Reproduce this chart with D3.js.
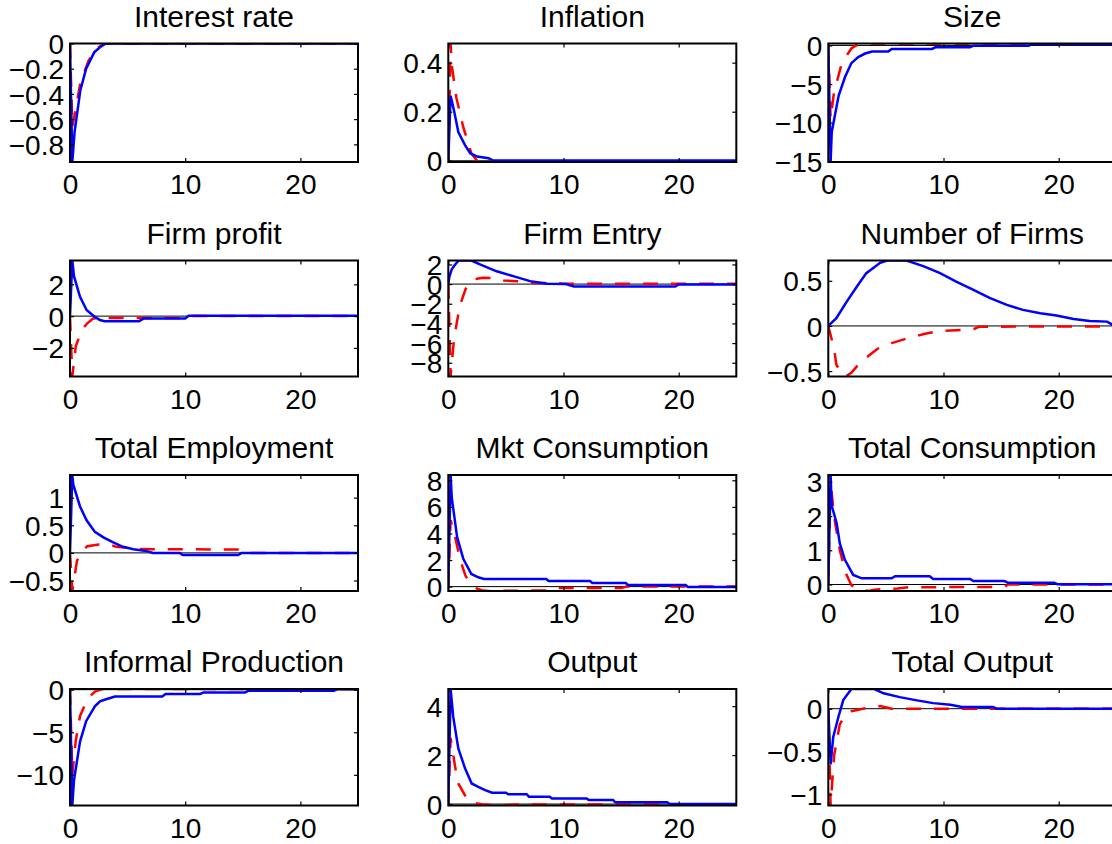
<!DOCTYPE html>
<html>
<head>
<meta charset="utf-8">
<script src="https://cdn.jsdelivr.net/npm/d3@7"></script>
<style>
  html, body { margin: 0; padding: 0; background: #fff; }
  svg { display: block; }
  text { font-family: "Liberation Sans", Arial, Helvetica, sans-serif; fill: #000; }
</style>
</head>
<body>
<svg id="chart" width="1112" height="844"></svg>
<script>
// Impulse responses: [period, value] pairs, solid = blue model, dashed = red model
const interestRateSolid  = [[0,0],[0.2,-0.94],[0.4,-0.7],[0.9,-0.37],[1.4,-0.2],[2.1,-0.07],[2.6,-0.03],[3.1,0],[25,0]];
const interestRateDashed = [[0,0],[0.2,-0.66],[0.5,-0.52],[0.9,-0.31],[1.6,-0.14],[2.2,-0.045],[3,0],[25,0]];

const inflationSolid  = [[0,0],[0.2,0.265],[0.5,0.204],[0.87,0.117],[1.45,0.064],[1.9,0.031],[2.5,0.017],[3.5,0.01],[3.9,0.001],[25,0.001]];
const inflationDashed = [[0,0],[0.2,0.478],[0.3,0.39],[0.7,0.257],[1.3,0.137],[2,0.03],[2.5,0],[3.5,-0.005],[25,-0.005]];

const sizeSolid  = [[0,0],[0.2,-15.1],[0.3,-11.2],[0.9,-6.5],[1.45,-4.1],[2,-2.3],[2.6,-1.5],[3.2,-1.05],[3.8,-0.8],[5.2,-0.8],[5.5,-0.45],[9,-0.45],[9.3,-0.24],[12.3,-0.24],[12.6,-0.03],[17.4,-0.03],[17.7,0.2],[25,0.2]];
const sizeDashed = [[0,0],[0.2,-9.5],[0.5,-6],[0.8,-4.4],[1.1,-2.7],[1.6,-1.3],[2,-0.4],[2.4,0],[3,0.25],[25,0.25]];

const profitSolid  = [[0,0],[0.2,3.5],[0.35,2.5],[0.87,1.22],[1.44,0.38],[2.16,-0.05],[2.6,-0.25],[3,-0.32],[6,-0.32],[6.4,-0.15],[10,-0.15],[10.3,0.02],[25,0.02]];
const profitDashed = [[0,0],[0.2,-3.8],[0.5,-1.9],[1,-0.9],[1.5,-0.45],[2,-0.15],[3,-0.12],[10,-0.12],[10.5,0],[25,0]];

const entrySolid  = [[0,0],[0.1,0.8],[0.3,1.5],[0.6,2.0],[0.9,2.4],[2,2.4],[2.8,1.97],[4.2,1.3],[5.7,0.78],[7.1,0.3],[8.6,0.03],[10.2,0],[10.9,-0.25],[19.7,-0.25],[20,-0.03],[25,-0.03]];
const entryDashed = [[0,0],[0.2,-9.4],[0.5,-5.5],[1,-2.2],[1.5,-0.5],[2,0.3],[2.5,0.55],[3,0.65],[4,0.6],[4.8,0.37],[6,0.3],[7,0.15],[8,0.1],[9.4,0.1],[10,0.03],[25,0.03]];

const firmsSolid  = [[0,0],[0.7,0.085],[1.6,0.27],[2.5,0.44],[3.3,0.585],[4.5,0.7],[5.1,0.725],[6.8,0.725],[8.3,0.66],[9.7,0.585],[11.1,0.49],[12.6,0.4],[14,0.31],[15.5,0.233],[16.9,0.178],[18.4,0.14],[19.8,0.115],[21.3,0.078],[22.7,0.055],[24.2,0.048],[24.7,0.01],[25,0]];
const firmsDashed = [[0,0],[0.5,-0.25],[0.7,-0.43],[1.1,-0.51],[1.5,-0.56],[2,-0.52],[2.8,-0.4],[4.3,-0.25],[5.5,-0.19],[6.8,-0.14],[8.3,-0.09],[9.7,-0.055],[12.6,-0.037],[13.1,-0.008],[25,-0.005]];

const employmentSolid  = [[0,0],[0.2,1.41],[0.29,1.23],[0.87,0.84],[1.44,0.59],[2.16,0.38],[2.9,0.28],[3.75,0.19],[4.6,0.11],[5.5,0.067],[6.6,0.036],[7.2,0],[9.5,0],[9.8,-0.04],[14.6,-0.04],[14.9,0],[25,0]];
const employmentDashed = [[0,0],[0.2,-0.69],[0.6,-0.15],[1,0.02],[1.5,0.12],[2.5,0.15],[3.5,0.15],[4,0.11],[5,0.09],[5.5,0.07],[15,0.06],[15.4,0],[25,0]];

const mktConsSolid  = [[0,0],[0.2,8.4],[0.3,6.7],[0.77,3.7],[1.3,2.1],[2,0.95],[2.6,0.7],[3.1,0.58],[8.5,0.58],[8.7,0.42],[12.3,0.42],[12.5,0.27],[15.4,0.27],[15.6,0.13],[20.6,0.13],[20.8,-0.03],[25,-0.03]];
const mktConsDashed = [[0,0],[0.2,5],[0.5,4.1],[1,2.1],[1.5,0.8],[2,0.2],[2.5,-0.15],[3,-0.3],[3.5,-0.33],[9,-0.28],[9.5,-0.1],[15,-0.1],[15.5,0],[25,0]];

const totConsSolid  = [[0,0],[0.2,3.2],[0.3,2.3],[0.72,1.8],[1,1.2],[1.44,0.72],[2.16,0.28],[2.9,0.18],[5.5,0.18],[5.8,0.24],[8.8,0.24],[9.1,0.16],[12.3,0.16],[12.6,0.1],[15.3,0.1],[15.6,0.05],[19.6,0.05],[19.9,0.01],[25,0.01]];
const totConsDashed = [[0,0],[0.2,3.0],[0.5,2.0],[1,1.0],[1.5,0.35],[2,-0.02],[2.5,-0.12],[3.5,-0.19],[4,-0.15],[6,-0.12],[7,-0.08],[15.3,-0.07],[15.6,0],[25,0]];

const informalSolid  = [[0,0],[0.2,-13.6],[0.35,-10.6],[0.87,-6.1],[1.4,-3.7],[2.16,-1.96],[2.6,-1.37],[3.2,-1.1],[3.9,-0.8],[8,-0.8],[8.3,-0.5],[11.3,-0.5],[11.6,-0.32],[15.2,-0.32],[15.5,-0.12],[22.9,-0.12],[23.2,0.05],[25,0.05]];
const informalDashed = [[0,0],[0.2,-10],[0.5,-6],[0.87,-3.1],[1.3,-1.76],[1.7,-0.8],[2.2,-0.2],[2.8,0.08],[25,0.08]];

const outputSolid  = [[0,0],[0.2,4.7],[0.43,3.56],[0.87,2.27],[1.45,1.46],[2.03,0.84],[2.6,0.7],[3.2,0.57],[3.8,0.46],[5,0.46],[5.2,0.4],[6.8,0.4],[7,0.3],[8.8,0.3],[9,0.23],[12,0.23],[12.2,0.16],[14.3,0.16],[14.5,0.07],[19,0.07],[19.2,0],[25,0]];
const outputDashed = [[0,0],[0.2,2.7],[0.6,1.5],[0.87,0.84],[1.6,0.23],[2.2,0.05],[3,-0.02],[4.6,-0.06],[6,-0.02],[25,-0.02]];

const totOutputSolid  = [[0,0],[0.2,-0.65],[0.43,-0.33],[0.87,-0.1],[1.3,0.1],[2,0.23],[4,0.23],[4.8,0.18],[6.2,0.135],[7.7,0.097],[9.1,0.065],[10.6,0.047],[11.6,0.02],[14.3,0.02],[14.6,0],[25,0]];
const totOutputDashed = [[0,0],[0.2,-1.13],[0.5,-0.55],[1,-0.18],[1.5,-0.07],[2,-0.03],[3,0],[4.5,0.03],[5.5,0],[25,0]];

// Titles and tick values
const titles = ["Interest rate", "Inflation", "Size",
                "Firm profit", "Firm Entry", "Number of Firms",
                "Total Employment", "Mkt Consumption", "Total Consumption",
                "Informal Production", "Output", "Total Output"];
const xTicks = [0, 10, 20];
const yTicksList = [
  [0, -0.2, -0.4, -0.6, -0.8], [0, 0.2, 0.4], [0, -5, -10, -15],
  [-2, 0, 2], [2, 0, -2, -4, -6, -8], [0.5, 0, -0.5],
  [1, 0.5, 0, -0.5], [8, 6, 4, 2, 0], [3, 2, 1, 0],
  [0, -5, -10], [4, 2, 0], [0, -0.5, -1]
];
const solidSeries = [interestRateSolid, inflationSolid, sizeSolid, profitSolid, entrySolid, firmsSolid,
                     employmentSolid, mktConsSolid, totConsSolid, informalSolid, outputSolid, totOutputSolid];
const dashedSeries = [interestRateDashed, inflationDashed, sizeDashed, profitDashed, entryDashed, firmsDashed,
                      employmentDashed, mktConsDashed, totConsDashed, informalDashed, outputDashed, totOutputDashed];

// Layout of the 4 x 3 grid of axes
const colLeft = [70, 448.3, 828.3];
const axWidth = 288;
const rowTop = [43.5, 260.5, 475, 689];
const rowBottom = [162, 376.5, 591, 805.5];
const tickLen = 4;
const tickFont = "28px";
const titleFont = "30px";

const svg = d3.select("#chart");
svg.append("rect").attr("width", 1112).attr("height", 844).attr("fill", "#fff");

const fmt = v => v === 0 ? "0" : (v < 0 ? "\u2212" : "") + Math.abs(v);

titles.forEach((title, i) => {
  const r = Math.floor(i / 3), c = i % 3;
  const x0 = colLeft[c], x1 = x0 + axWidth;
  const y0 = rowTop[r], y1 = rowBottom[r];

  const solid = solidSeries[i], dashed = dashedSeries[i];
  const allVals = solid.concat(dashed).map(d => d[1]);
  const x = d3.scaleLinear().domain([0, 25]).range([x0, x1]);
  const y = d3.scaleLinear().domain(d3.extent(allVals)).range([y1, y0]);

  const g = svg.append("g");
  const clipId = "clip" + i;
  g.append("clipPath").attr("id", clipId)
    .append("rect").attr("x", x0).attr("y", y0).attr("width", axWidth).attr("height", y1 - y0);

  const plot = g.append("g").attr("clip-path", `url(#${clipId})`);
  const line = d3.line().x(d => x(d[0])).y(d => y(d[1]));

  // zero reference line
  plot.append("line")
    .attr("x1", x(0)).attr("x2", x(25)).attr("y1", y(0)).attr("y2", y(0))
    .attr("stroke", "#000").attr("stroke-width", 1);

  plot.append("path").datum(dashed).attr("d", line)
    .attr("fill", "none").attr("stroke", "#ff0000").attr("stroke-width", 2.5)
    .attr("stroke-dasharray", "15,13");

  plot.append("path").datum(solid).attr("d", line)
    .attr("fill", "none").attr("stroke", "#0000ff").attr("stroke-width", 2.5);

  // axes (ticks pointing inward, mirrored on top and right)
  const yTicks = yTicksList[i];
  const bottomAxis = d3.axisBottom(x).tickValues(xTicks).tickSize(-tickLen).tickPadding(0).tickFormat(fmt);
  const topAxis = d3.axisTop(x).tickValues(xTicks).tickSize(-tickLen).tickFormat("");
  const leftAxis = d3.axisLeft(y).tickValues(yTicks).tickSize(-tickLen).tickPadding(0).tickFormat(fmt);
  const rightAxis = d3.axisRight(y).tickValues(yTicks).tickSize(-tickLen).tickFormat("");

  const styleAxis = sel => {
    sel.select(".domain").remove();
    sel.selectAll(".tick line").attr("stroke", "#000").attr("stroke-width", 1.2);
  };

  const gb = g.append("g").attr("transform", `translate(0,${y1})`).call(bottomAxis).call(styleAxis);
  gb.selectAll(".tick text").attr("y", 32).attr("dy", null)
    .style("font-size", tickFont).style("font-family", '"Liberation Sans", Arial, sans-serif');
  g.append("g").attr("transform", `translate(0,${y0})`).call(topAxis).call(styleAxis);
  const gl = g.append("g").attr("transform", `translate(${x0},0)`).call(leftAxis).call(styleAxis);
  gl.selectAll(".tick text").attr("x", -6).attr("dy", "0.36em")
    .style("font-size", tickFont).style("font-family", '"Liberation Sans", Arial, sans-serif');
  g.append("g").attr("transform", `translate(${x1},0)`).call(rightAxis).call(styleAxis);

  // box
  g.append("rect").attr("x", x0).attr("y", y0).attr("width", axWidth).attr("height", y1 - y0)
    .attr("fill", "none").attr("stroke", "#000").attr("stroke-width", 2);

  g.append("text").attr("x", (x0 + x1) / 2).attr("y", y0 - 17)
    .attr("text-anchor", "middle").style("font-size", titleFont).text(title);
});
</script>
</body>
</html>
